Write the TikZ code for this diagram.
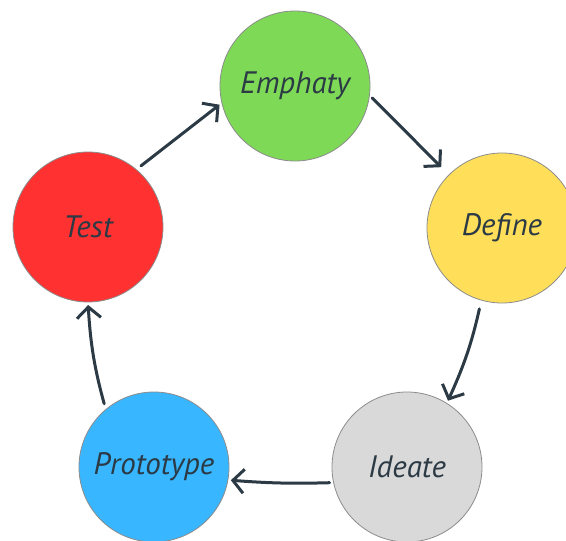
\documentclass[tikz,border=0pt]{standalone}
\usepackage{fontspec}
\newfontfamily\handfont{PT Sans}
\usetikzlibrary{arrows.meta}
\definecolor{cgreen}{HTML}{7ED957}
\definecolor{cyellow}{HTML}{FFDE59}
\definecolor{cgray}{HTML}{D9D9D9}
\definecolor{cblue}{HTML}{38B6FF}
\definecolor{cred}{HTML}{FF3131}
\definecolor{ink}{HTML}{2B3A44}
\definecolor{rim}{HTML}{8C8C8C}
\tikzset{
  phase/.style={circle, draw=rim, line width=0.8pt, minimum size=150pt,
    inner sep=0pt, outer sep=0pt, text=ink,
    font=\handfont\fontsize{31}{35}\selectfont\itshape},
  flow/.style={draw=ink, line width=3pt, line cap=round, line join=round,
    -{Straight Barb[length=11pt,width=24pt,line width=3pt]}},
}
\begin{document}
\begin{tikzpicture}[x=1pt,y=1pt]
  \useasboundingbox (0,0) rectangle (566,-541);
  \node[phase, fill=cgreen]  (emph)  at (295,-86)  {Emphaty};
  \node[phase, fill=cyellow] (def)   at (502,-228) {Define};
  \node[phase, fill=cgray]   (idea)  at (407,-467) {Ideate};
  \node[phase, fill=cblue]   (proto) at (154,-467) {Prototype};
  \node[phase, fill=cred]    (test)  at (88,-227)  {Test};

  \draw[flow, shorten <=6pt, shorten >=3pt] (test.50) -- (emph.193);
  \draw[flow, shorten <=4pt, shorten >=11pt] (emph.-7) -- (def.135);
  \draw[flow, shorten <=9pt, shorten >=3pt] (def.-106) to[bend left=6] (idea.58);
  \draw[flow, shorten <=4pt, shorten >=3pt] (idea.192) to[bend left=3] (proto.-10);
  \draw[flow, shorten <=6pt, shorten >=3pt] (proto.130) to[bend left=6] (test.-90);
\end{tikzpicture}
\end{document}
